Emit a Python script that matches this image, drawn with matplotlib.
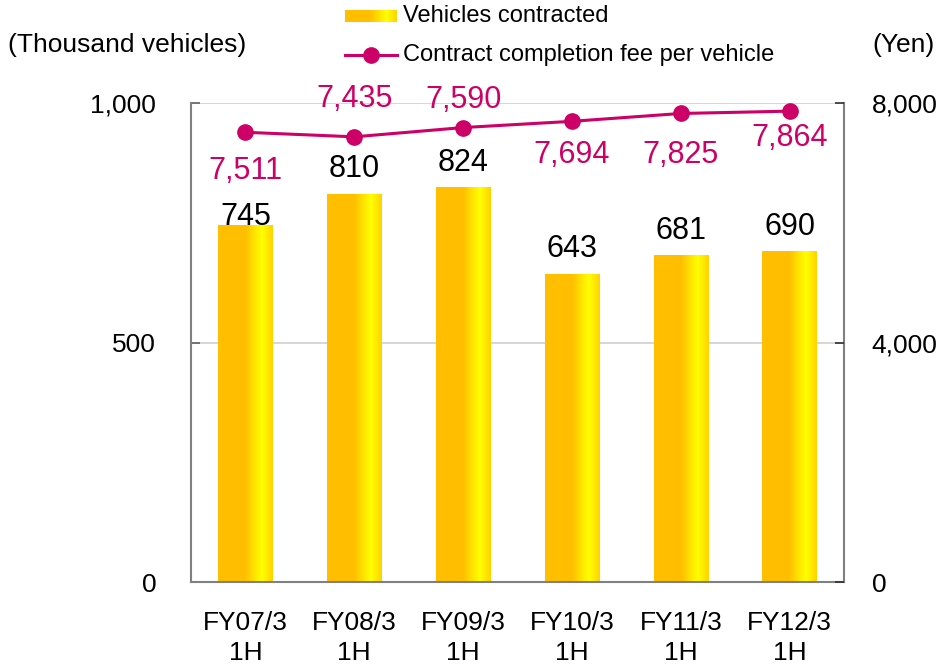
import numpy as np
import matplotlib
matplotlib.use("Agg")
import matplotlib.pyplot as plt
from matplotlib.colors import LinearSegmentedColormap
from matplotlib.lines import Line2D

plt.rcParams['font.family'] = ['Liberation Sans', 'DejaVu Sans']

# === Data ===
categories = ["FY07/3\n1H", "FY08/3\n1H", "FY09/3\n1H", "FY10/3\n1H", "FY11/3\n1H", "FY12/3\n1H"]
vehicles = [745, 810, 824, 643, 681, 690]
fee = [7511, 7435, 7590, 7694, 7825, 7864]
# label offsets (points): bar labels above bar top, fee labels + above / - below the point
bar_offsets = [0, 12, 12, 12, 12, 12]
fee_offsets = [-28, 27, 20, -24, -30, -19]

LINE_COLOR = "#CC0066"
BAR_CMAP = LinearSegmentedColormap.from_list(
    "bar", [(0.0, "#FFBF00"), (0.5, "#FFC000"), (0.8, "#FFFF00"), (1.0, "#FFD200")])
GRADIENT = np.linspace(0, 1, 256).reshape(1, -1)

fig = plt.figure(figsize=(9.42, 6.70), dpi=100)
ax = fig.add_axes([191 / 942, 88 / 670, 653 / 942, 479 / 670])
ax2 = ax.twinx()

x = np.arange(len(categories))
width = 0.5
bars = ax.bar(x, vehicles, width=width, color="none", edgecolor="none", zorder=2)
for b, v, off in zip(bars, vehicles, bar_offsets):
    x0 = b.get_x()
    ax.imshow(GRADIENT, cmap=BAR_CMAP, aspect="auto", interpolation="bicubic",
              extent=[x0, x0 + width, 0, v], zorder=2)
    ax.annotate(f"{v:,}", (b.get_x() + width / 2, v), xytext=(0, off), textcoords="offset points",
                ha="center", va="baseline", fontsize=22, color="black")

ax.set_xlim(-0.5, len(categories) - 0.5)
ax.set_ylim(0, 1000)
ax.set_yticks([0, 500, 1000])
ax.set_yticklabels(["0", "500", "1,000"])
ax.set_xticks(x)
ax.set_xticklabels(categories, fontsize=19, linespacing=1.3)
ax.grid(axis="y", color="#D0D0D0", linewidth=1.2, zorder=0)
ax.set_axisbelow(True)
ax.tick_params(axis="y", direction="in", length=6.5, width=1.2, color="#606060", labelsize=19, pad=25)
ax.tick_params(axis="x", length=0, pad=21)

for s in ["left", "bottom", "right"]:
    ax.spines[s].set_color("#808080")
    ax.spines[s].set_linewidth(1.5)
ax.spines["top"].set_visible(False)

ax2.plot(x, fee, color=LINE_COLOR, linewidth=2.2, marker="o", markersize=11, zorder=3)
ax2.set_ylim(0, 8000)
ax2.set_yticks([0, 4000, 8000])
ax2.set_yticklabels(["0", "4,000", "8,000"])
ax2.tick_params(axis="y", direction="in", length=6.5, width=1.2, color="#303030", labelsize=19, pad=20)
for s in ["left", "bottom", "right", "top"]:
    ax2.spines[s].set_visible(False)
for xi, f, off in zip(x, fee, fee_offsets):
    ax2.annotate(f"{f:,}", (xi, f), xytext=(0, off), textcoords="offset points",
                 ha="center", va="center", fontsize=22, color=LINE_COLOR)

# axis unit labels
fig.text(8 / 942, 1 - 45 / 670, "(Thousand vehicles)", fontsize=19, ha="left", va="center")
fig.text(935 / 942, 1 - 45 / 670, "(Yen)", fontsize=19, ha="right", va="center")

# legend drawn by hand
sw = fig.add_axes([345 / 942, 1 - 22 / 670, 52 / 942, 12 / 670])
sw.imshow(GRADIENT, cmap=BAR_CMAP, aspect="auto", interpolation="bicubic")
sw.axis("off")
fig.text(403 / 942, 1 - 16 / 670, "Vehicles contracted", fontsize=17, ha="left", va="center")
fig.add_artist(Line2D([345 / 942, 397 / 942], [1 - 55 / 670, 1 - 55 / 670], color=LINE_COLOR,
                      linewidth=2.2, marker=None))
fig.add_artist(Line2D([371 / 942], [1 - 55 / 670], color=LINE_COLOR, marker="o", markersize=11))
fig.text(403 / 942, 1 - 55 / 670, "Contract completion fee per vehicle", fontsize=17, ha="left", va="center")

fig.savefig("out.png", dpi=100)
